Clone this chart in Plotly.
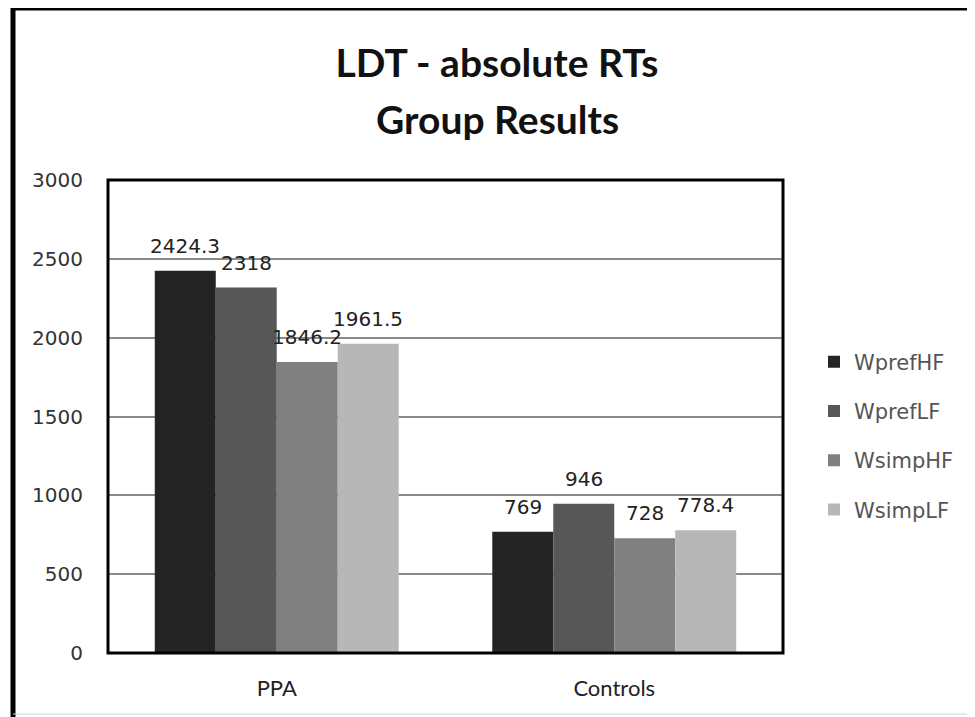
import plotly.graph_objects as go

# ---- data ----
groups = ["PPA", "Controls"]
series_names = ["WprefHF", "WprefLF", "WsimpHF", "WsimpLF"]
WprefHF = [2424.3, 769]
WprefLF = [2318, 946]
WsimpHF = [1846.2, 728]
WsimpLF = [1961.5, 778.4]
y_ticks = [0, 500, 1000, 1500, 2000, 2500, 3000]

series_values = [WprefHF, WprefLF, WsimpHF, WsimpLF]
colors = ["#242424", "#575757", "#808080", "#b7b7b7"]

group_pos = list(range(len(groups)))
bar_w = 0.1807
group_start = -2 * bar_w

# the page body adds an 8px margin; work in page pixels and shift
O = 8
W, H = 975 - O, 717 - O
L, R, T, B = 108 - O, 783 - O, 180 - O, 653 - O
pw, ph = R - L, B - T


def px(xp):
    return (xp - O - L) / pw


def py(yp):
    return (B - (yp - O)) / ph


fig = go.Figure()
annotations = []
for k, (name, vals, col) in enumerate(zip(series_names, series_values, colors)):
    off = group_start + k * bar_w
    fig.add_trace(go.Bar(
        x=group_pos, y=vals, name=name, width=bar_w, offset=off,
        marker=dict(color=col, line=dict(width=0)),
        legendgroup=name,
    ))
    for gx, v in zip(group_pos, vals):
        annotations.append(dict(
            x=gx + off + bar_w / 2, y=v, xref="x", yref="y",
            text=f"{v:g}", showarrow=False, yshift=25,
            font=dict(family="DejaVu Sans", size=20, color="#222222"),
        ))

# second title line
annotations.append(dict(
    text="<b>Group Results</b>", xref="paper", yref="paper",
    x=px(497), y=py(119), xanchor="center", yanchor="middle", showarrow=False,
    font=dict(family="Lato", size=39, color="#111111"),
))

shapes = [
    dict(type="rect", xref="paper", yref="paper", x0=0, y0=0, x1=1, y1=1,
         line=dict(color="black", width=3), layer="above"),
    dict(type="line", xref="paper", yref="paper", x0=px(11), x1=px(985), y0=py(8), y1=py(8),
         line=dict(color="black", width=5)),
    dict(type="line", xref="paper", yref="paper", x0=px(13), x1=px(13), y0=py(6), y1=py(730),
         line=dict(color="black", width=5)),
    dict(type="line", xref="paper", yref="paper", x0=px(13), x1=px(968), y0=py(714), y1=py(714),
         line=dict(color="#d0d0d0", width=1)),
    dict(type="line", xref="paper", yref="paper", x0=px(968), x1=px(968), y0=py(8), y1=py(714),
         line=dict(color="#e4e4e4", width=1)),
]

fig.update_layout(
    width=W, height=H,
    margin=dict(l=L, r=W - R, t=T, b=H - B, pad=0),
    paper_bgcolor="white", plot_bgcolor="white",
    barmode="overlay",
    title=dict(
        text="<b>LDT - absolute RTs</b>",
        x=(497 - O) / W, xanchor="center", xref="container",
        y=1 - (63 - O) / H, yanchor="middle", yref="container",
        font=dict(family="Lato", size=39, color="#111111"),
    ),
    xaxis=dict(
        range=[-0.5, 1.5], tickvals=group_pos, ticktext=groups,
        showgrid=False, zeroline=False, ticks="", ticklabelstandoff=20,
        tickfont=dict(family="Lato", size=22, color="#222222"),
        fixedrange=True,
    ),
    yaxis=dict(
        range=[0, 3000], tickvals=y_ticks, showgrid=True,
        gridcolor="#8a8a8a", gridwidth=1.5, zeroline=False, ticks="",
        ticklabelstandoff=24,
        tickfont=dict(family="DejaVu Sans", size=20, color="#333333"),
        fixedrange=True,
    ),
    legend=dict(
        x=px(814), xanchor="left", y=py(436), yanchor="middle",
        font=dict(family="DejaVu Sans", size=21, color="#555555"),
        traceorder="grouped", tracegroupgap=19,
        bgcolor="rgba(0,0,0,0)", itemsizing="constant",
    ),
    showlegend=True,
    shapes=shapes,
    annotations=annotations,
)

fig.write_html("out.html")
